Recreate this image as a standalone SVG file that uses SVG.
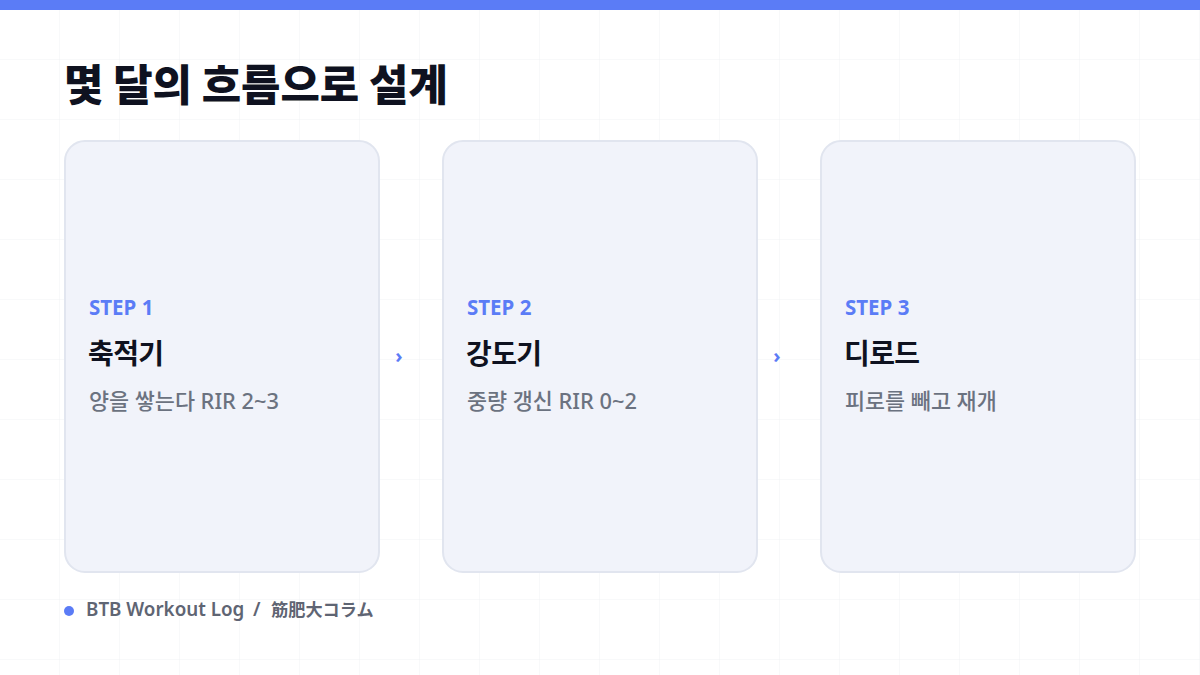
<svg xmlns="http://www.w3.org/2000/svg" width="1200" height="675" viewBox="0 0 1200 675">
<defs>
<pattern id="grid" width="60" height="60" patternUnits="userSpaceOnUse">
<path d="M60 0V60M0 60H60" fill="none" stroke="#f0f2f5" stroke-width="1"/>
</pattern>
<style>
.card{fill:#f1f3fa;stroke:#e1e5ef;stroke-width:2}
.step{font-family:"Noto Sans","Noto Sans CJK KR",sans-serif;font-weight:700;font-size:20.5px;fill:#5b7cf6}
.name{font-family:"Noto Sans CJK KR",sans-serif;font-weight:700;font-size:28px;letter-spacing:-0.6px;fill:#0f1220}
.desc{font-family:"Noto Sans","Noto Sans CJK KR",sans-serif;font-weight:500;font-size:21.8px;fill:#6b7280}
.arrow{font-family:"Noto Sans",sans-serif;font-weight:700;font-size:20px;fill:#5b7cf6}
.foot{font-family:"Noto Sans","Noto Sans CJK JP",sans-serif;font-weight:600;font-size:18.8px;fill:#5f6573}
.footj{font-family:"Noto Sans CJK JP",sans-serif;font-weight:700;font-size:17.2px;fill:#5f6573}
</style>
</defs>
<rect width="1200" height="675" fill="#ffffff"/>
<rect width="1200" height="675" fill="url(#grid)"/>
<rect width="1200" height="10" fill="#5b7cf6"/>
<text x="64" y="101" font-family="Noto Sans CJK KR,sans-serif" font-weight="900" font-size="42.8" fill="#0f1220">몇 달의 흐름으로 설계</text>
<g id="step1">
<rect class="card" x="65" y="141" width="314" height="431" rx="20"/>
<text class="step" x="89" y="315">STEP 1</text>
<text class="name" x="88" y="364">축적기</text>
<text class="desc" x="89" y="409">양을 쌓는다 RIR 2~3</text>
</g>
<g id="step2">
<rect class="card" x="443" y="141" width="314" height="431" rx="20"/>
<text class="step" x="467" y="315">STEP 2</text>
<text class="name" x="466" y="364">강도기</text>
<text class="desc" x="467" y="409">중량 갱신 RIR 0~2</text>
</g>
<g id="step3">
<rect class="card" x="821" y="141" width="314" height="431" rx="20"/>
<text class="step" x="845" y="315">STEP 3</text>
<text class="name" x="844" y="364">디로드</text>
<text class="desc" x="845" y="409">피로를 빼고 재개</text>
</g>
<g id="connectors">
<text class="arrow" x="399" y="363" text-anchor="middle">›</text>
<text class="arrow" x="777" y="363" text-anchor="middle">›</text>
</g>
<g id="footer">
<circle cx="69" cy="611" r="5" fill="#5b7cf6"/>
<text class="foot" x="86" y="616">BTB Workout Log</text>
<text class="foot" x="253" y="616">/</text>
<text class="footj" x="271" y="616">筋肥大コラム</text>
</g>
</svg>
